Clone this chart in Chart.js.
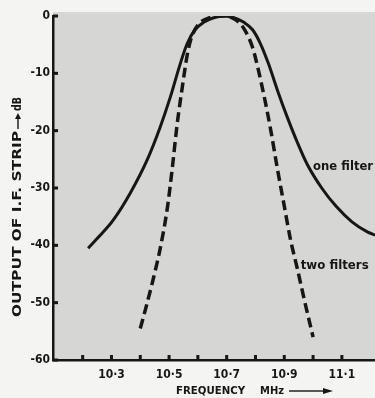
<!DOCTYPE html>
<html>
<head>
<meta charset="utf-8">
<script src="https://cdn.jsdelivr.net/npm/chart.js@4.4.0/dist/chart.umd.min.js"></script>
<style>
html, body { margin: 0; padding: 0; background: #f4f4f2; }
#wrap { width: 375px; height: 398px; }
</style>
</head>
<body>
<div id="wrap"><canvas id="ifChart"></canvas></div>
<script>
// frequency in MHz, output in dB
const oneFreq = [10.219, 10.26, 10.306, 10.365, 10.424, 10.469, 10.504, 10.539, 10.563, 10.59, 10.62, 10.655, 10.69, 10.725, 10.76, 10.79, 10.817, 10.845, 10.878, 10.91, 10.945, 10.98, 11.03, 11.08, 11.135, 11.19, 11.215];
const oneDb   = [-40.5, -38.3, -35.6, -30.9, -25.1, -19.4, -14.2, -8.3, -4.8, -2.4, -1.1, -0.3, 0, -0.3, -1.1, -2.4, -4.8, -8.3, -13.2, -17.6, -22.0, -25.9, -30.0, -33.2, -35.9, -37.7, -38.2];

const twoFreq = [10.40, 10.42, 10.442, 10.469, 10.494, 10.511, 10.528, 10.546, 10.563, 10.576, 10.6, 10.64, 10.69, 10.73, 10.76, 10.79, 10.81, 10.835, 10.853, 10.877, 10.898, 10.922, 10.945, 10.97, 11.0];
const twoDb   = [-54.5, -50.8, -46.5, -40.6, -33.5, -26.6, -18.9, -12.4, -6.8, -4.0, -1.6, -0.3, 0, -0.6, -2.2, -5.5, -9.4, -15.2, -19.9, -26.9, -32.6, -39.1, -44.0, -49.6, -56.0];

const xTickValues = [10.2, 10.3, 10.4, 10.5, 10.6, 10.7, 10.8, 10.9, 11.0, 11.1];
const xTickLabels = ['', '10·3', '', '10·5', '', '10·7', '', '10·9', '', '11·1'];
const yTickValues = [-60, -50, -40, -30, -20, -10, 0];
const yTickLabels = ['-60', '-50', '-40', '-30', '-20', '-10', '0'];

const ink = '#161616';

function points(xs, ys) {
  return xs.map((x, i) => ({ x: x, y: ys[i] }));
}

// write text squeezed/stretched to a given width
function fitText(ctx, text, x, y, width) {
  const w = ctx.measureText(text).width;
  ctx.save();
  ctx.translate(x, y);
  ctx.scale(width / w, 1);
  ctx.fillText(text, 0, 0);
  ctx.restore();
}

const paper = {
  id: 'paper',
  beforeDraw(chart) {
    const { ctx, chartArea: a } = chart;
    ctx.save();
    ctx.fillStyle = '#f4f4f2';
    ctx.fillRect(0, 0, chart.width, chart.height);
    ctx.fillStyle = '#d6d6d4';
    ctx.fillRect(a.left, a.top - 4, chart.width - a.left, a.bottom - a.top + 4);
    ctx.restore();
  },
  afterDraw(chart) {
    const { ctx, chartArea: a, scales } = chart;
    ctx.save();
    ctx.fillStyle = ink;
    // small tick marks, pointing into the plot
    xTickValues.forEach(v => {
      const px = scales.x.getPixelForValue(v);
      ctx.fillRect(px - 1.5, a.bottom - 5, 3, 5);
    });
    yTickValues.forEach(v => {
      const py = scales.y.getPixelForValue(v);
      ctx.fillRect(a.left, py - 1.5, 5, 3);
    });

    // curve labels
    ctx.font = 'bold 12px "DejaVu Sans Condensed"';
    ctx.textBaseline = 'middle';
    fitText(ctx, 'one filter', scales.x.getPixelForValue(11.0), scales.y.getPixelForValue(-26.4), 60);
    fitText(ctx, 'two filters', scales.x.getPixelForValue(10.957), scales.y.getPixelForValue(-43.5), 68);

    // x axis title
    ctx.font = 'bold 11px "DejaVu Sans Condensed"';
    fitText(ctx, 'FREQUENCY', 176, 391, 69);
    fitText(ctx, 'MHz', 260, 391, 24);
    ctx.fillRect(289, 390.3, 36, 1.4);
    ctx.beginPath();
    ctx.moveTo(333, 391);
    ctx.lineTo(323, 388);
    ctx.lineTo(323, 394);
    ctx.closePath();
    ctx.fill();

    // y axis title, rotated
    ctx.font = 'bold 12px "DejaVu Sans Condensed"';
    ctx.translate(18, 0);
    ctx.rotate(-Math.PI / 2);
    fitText(ctx, 'OUTPUT OF I.F. STRIP', -317, 0, 186);
    ctx.fillRect(-129, -0.7, 11, 1.4);
    ctx.beginPath();
    ctx.moveTo(-113, 0);
    ctx.lineTo(-119, -3);
    ctx.lineTo(-119, 3);
    ctx.closePath();
    ctx.fill();
    fitText(ctx, 'dB', -111, 0, 14);
    ctx.restore();
  }
};

new Chart(document.getElementById('ifChart'), {
  type: 'line',
  data: {
    datasets: [
      {
        label: 'one filter',
        data: points(oneFreq, oneDb),
        borderColor: ink,
        borderWidth: 3,
        cubicInterpolationMode: 'monotone',
        pointRadius: 0
      },
      {
        label: 'two filters',
        data: points(twoFreq, twoDb),
        borderColor: ink,
        borderWidth: 3.5,
        borderDash: [10, 5],
        cubicInterpolationMode: 'monotone',
        pointRadius: 0
      }
    ]
  },
  options: {
    responsive: true,
    maintainAspectRatio: false,
    animation: false,
    layout: { padding: { top: 16, right: 0, bottom: 0, left: 0 } },
    plugins: { legend: { display: false }, tooltip: { enabled: false } },
    scales: {
      x: {
        type: 'linear',
        min: 10.097,
        max: 11.215,
        afterBuildTicks: s => { s.ticks = xTickValues.map(v => ({ value: v })); },
        afterFit: s => { s.height = 38; },
        grid: { display: false, drawTicks: false },
        border: { display: true, color: ink, width: 2.5 },
        ticks: {
          autoSkip: false,
          maxRotation: 0,
          padding: 8,
          color: ink,
          font: { family: 'DejaVu Sans Condensed', size: 12, weight: 'bold' },
          callback: v => {
            const i = xTickValues.findIndex(t => Math.abs(t - v) < 1e-6);
            return i < 0 ? '' : xTickLabels[i];
          }
        }
      },
      y: {
        min: -60,
        max: 0,
        afterBuildTicks: s => { s.ticks = yTickValues.map(v => ({ value: v })); },
        afterFit: s => { s.width = 53; },
        grid: { display: false, drawTicks: false },
        border: { display: true, color: ink, width: 2.5 },
        ticks: {
          padding: 3,
          color: ink,
          font: { family: 'DejaVu Sans Condensed', size: 12, weight: 'bold' },
          callback: v => yTickLabels[yTickValues.indexOf(v)]
        }
      }
    }
  },
  plugins: [paper]
});
</script>
</body>
</html>
